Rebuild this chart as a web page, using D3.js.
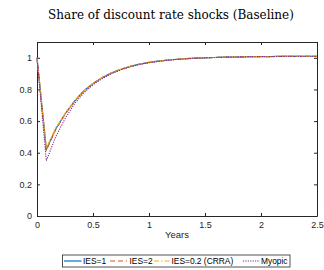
<!DOCTYPE html>
<html lang="en">
<head>
<meta charset="UTF-8">
<title>Share of discount rate shocks</title>
<script src="https://d3js.org/d3.v7.min.js"></script>
<style>
  body { margin: 0; background: #fff; }
  .tick text { font: 9px "Liberation Sans", Arial, sans-serif; fill: #262626; }
</style>
</head>
<body>
<script>
// monthly horizon in years
const years = d3.range(0, 31).map(k => k / 12);

const ies1 = [1, 0.42, 0.55, 0.645, 0.725, 0.79, 0.838, 0.875, 0.905, 0.928, 0.946, 0.96, 0.971,
  0.979, 0.986, 0.991, 0.995, 0.998, 1.0, 1.002, 1.004, 1.005, 1.006, 1.007, 1.008, 1.008,
  1.009, 1.009, 1.009, 1.01, 1.01];
const ies2 = [1, 0.415, 0.547, 0.643, 0.724, 0.789, 0.837, 0.875, 0.905, 0.928, 0.946, 0.96, 0.971,
  0.979, 0.986, 0.991, 0.995, 0.998, 1.0, 1.002, 1.004, 1.005, 1.006, 1.007, 1.008, 1.008,
  1.009, 1.009, 1.009, 1.01, 1.01];
const crra = [1, 0.43, 0.555, 0.648, 0.727, 0.791, 0.839, 0.876, 0.906, 0.928, 0.946, 0.96, 0.971,
  0.979, 0.986, 0.991, 0.995, 0.998, 1.0, 1.002, 1.004, 1.005, 1.006, 1.007, 1.008, 1.008,
  1.009, 1.009, 1.009, 1.01, 1.01];
const myopic = [1, 0.35, 0.5, 0.615, 0.708, 0.778, 0.83, 0.869, 0.9, 0.924, 0.943, 0.958, 0.969,
  0.978, 0.985, 0.99, 0.994, 0.997, 1.0, 1.002, 1.004, 1.005, 1.006, 1.007, 1.008, 1.008,
  1.009, 1.009, 1.009, 1.01, 1.01];

const seriesNames = ["IES=1", "IES=2", "IES=0.2 (CRRA)", "Myopic"];
const seriesData = [ies1, ies2, crra, myopic];
const colors = ["#0072BD", "#D95319", "#EDB120", "#7E2F8E"];
const dashes = [null, "5,3", "5,2,1.5,2", "1.2,1.2"];

const xTicks = [0, 0.5, 1, 1.5, 2, 2.5];
const yTicks = [0, 0.2, 0.4, 0.6, 0.8, 1];

const W = 324, H = 270;
const margin = {top: 42, right: 7, bottom: 54, left: 37};
const width = W - margin.left - margin.right;
const height = H - margin.top - margin.bottom;

const svg = d3.select("body").append("svg")
    .attr("width", W)
    .attr("height", H);

svg.append("text")
    .attr("x", 171).attr("y", 19)
    .attr("text-anchor", "middle")
    .style("font", "12px 'DejaVu Serif', serif")
    .style("fill", "#000")
    .text("Share of discount rate shocks (Baseline)");

const g = svg.append("g").attr("transform", `translate(${margin.left},${margin.top})`);

const x = d3.scaleLinear().domain([0, 2.5]).range([0, width]);
const y = d3.scaleLinear().domain([0, 1.1]).range([height, 0]);

// axes, MATLAB style with inward ticks
const styleAxis = sel => {
  sel.select(".domain").attr("stroke", "#262626");
  sel.selectAll(".tick line").attr("stroke", "#262626");
};
g.append("g").attr("transform", `translate(0,${height})`)
  .call(d3.axisBottom(x).tickValues(xTicks).tickSize(-3).tickPadding(6).tickSizeOuter(0)
    .tickFormat(d3.format("")))
  .call(styleAxis);
g.append("g")
  .call(d3.axisLeft(y).tickValues(yTicks).tickSize(-3).tickPadding(5).tickSizeOuter(0)
    .tickFormat(d3.format("")))
  .call(styleAxis);
g.append("g")
  .call(d3.axisTop(x).tickValues(xTicks).tickSize(-3).tickSizeOuter(0).tickFormat(""))
  .call(styleAxis);
g.append("g").attr("transform", `translate(${width},0)`)
  .call(d3.axisRight(y).tickValues(yTicks).tickSize(-3).tickSizeOuter(0).tickFormat(""))
  .call(styleAxis);

g.append("text")
    .attr("x", width / 2).attr("y", height + 22)
    .attr("text-anchor", "middle")
    .style("font", "9.5px 'Liberation Sans', Arial, sans-serif")
    .style("fill", "#262626")
    .text("Years");

const line = d3.line().x((d, i) => x(years[i])).y(d => y(d));

seriesData.forEach((s, i) => {
  g.append("path")
    .datum(s)
    .attr("fill", "none")
    .attr("stroke", colors[i])
    .attr("stroke-width", i === 3 ? 1.1 : 1.2)
    .attr("stroke-dasharray", dashes[i])
    .attr("d", line);
});

// legend
const leg = svg.append("g");
leg.append("rect")
    .attr("x", 62.5).attr("y", 255).attr("width", 227.5).attr("height", 12)
    .attr("fill", "#fff").attr("stroke", "#262626").attr("stroke-width", 0.8);
const items = [
  {x0: 64, x1: 81.5, tx: 83},
  {x0: 110, x1: 127, tx: 129.5},
  {x0: 154, x1: 170, tx: 171.5},
  {x0: 243, x1: 260, tx: 261}
];
items.forEach((it, i) => {
  leg.append("line")
    .attr("x1", it.x0).attr("x2", it.x1).attr("y1", 261).attr("y2", 261)
    .attr("stroke", colors[i]).attr("stroke-width", 1.2)
    .attr("stroke-dasharray", dashes[i]);
  leg.append("text")
    .attr("x", it.tx).attr("y", 264.3)
    .style("font", "8.4px 'Liberation Sans', Arial, sans-serif")
    .style("fill", "#000")
    .text(seriesNames[i]);
});
</script>
</body>
</html>
